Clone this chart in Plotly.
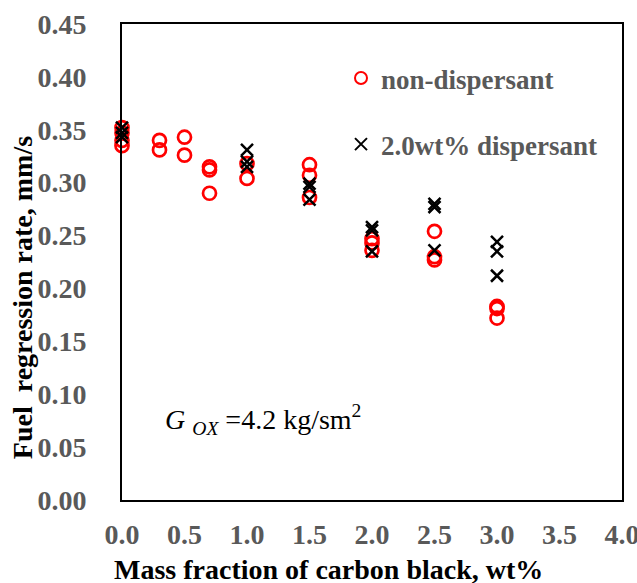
import plotly.graph_objects as go

# Non-dispersant (red open circles)
nd_x = [0, 0, 0, 0, 0.3, 0.3, 0.5, 0.5, 0.7, 0.7, 0.7, 1.0, 1.0,
        1.5, 1.5, 1.5, 2.0, 2.0, 2.0, 2.5, 2.5, 2.5, 3.0, 3.0, 3.0]
nd_y = [0.352, 0.347, 0.340, 0.335, 0.340, 0.331, 0.343, 0.326, 0.315, 0.312, 0.290,
        0.318, 0.304, 0.317, 0.307, 0.286, 0.247, 0.243, 0.236,
        0.254, 0.230, 0.227, 0.183, 0.181, 0.172]

# 2.0wt% dispersant (black crosses)
d_x = [0, 0, 0, 1.0, 1.0, 1.0, 1.5, 1.5, 1.5, 2.0, 2.0, 2.0, 2.5, 2.5, 2.5, 3.0, 3.0, 3.0]
d_y = [0.352, 0.347, 0.343, 0.331, 0.320, 0.315, 0.299, 0.296, 0.284,
       0.258, 0.255, 0.235, 0.280, 0.277, 0.236, 0.244, 0.235, 0.212]

x_ticks = [0.0, 0.5, 1.0, 1.5, 2.0, 2.5, 3.0, 3.5, 4.0]
y_ticks = [0.00, 0.05, 0.10, 0.15, 0.20, 0.25, 0.30, 0.35, 0.40, 0.45]

SERIF = "Liberation Serif, Times New Roman, serif"
GRAY = "#595959"

fig = go.Figure()
fig.add_trace(go.Scatter(
    x=nd_x, y=nd_y, mode="markers", name="non-dispersant", legendgroup="a",
    marker=dict(symbol="circle-open", size=13, color="#FF0000", line=dict(width=2.7, color="#FF0000")),
    cliponaxis=False,
))
fig.add_trace(go.Scatter(
    x=d_x, y=d_y, mode="markers", name="2.0wt% dispersant", legendgroup="b",
    marker=dict(symbol="x-thin-open", size=12, color="#000000", line=dict(width=2.5, color="#000000")),
    cliponaxis=False,
))

fig.update_layout(
    width=637, height=583,
    margin=dict(l=122, r=15, t=24, b=83, autoexpand=False),
    paper_bgcolor="white", plot_bgcolor="white",
    font=dict(family=SERIF, size=27, color=GRAY),
    showlegend=True,
    legend=dict(
        x=0.438, y=0.937, xanchor="left", yanchor="top",
        bgcolor="rgba(0,0,0,0)",
        font=dict(family=SERIF, size=27, color=GRAY, weight="bold"),
        tracegroupgap=28, itemsizing="constant",
    ),
    xaxis=dict(
        range=[0, 4], tickvals=x_ticks, ticktext=[f"{v:.1f}" for v in x_ticks],
        showgrid=False, zeroline=False, automargin=False,
        showline=True, linecolor="black", linewidth=2, mirror=True,
        ticks="", ticklabelstandoff=8, ticklabeloverflow="allow",
        tickfont=dict(family=SERIF, size=28, color=GRAY, weight="bold"),
    ),
    yaxis=dict(
        range=[0, 0.45], tickvals=y_ticks, ticktext=[f"{v:.2f}" for v in y_ticks],
        showgrid=False, zeroline=False, automargin=False,
        showline=True, linecolor="black", linewidth=2, mirror=True,
        ticks="", ticklabelstandoff=28, ticklabeloverflow="allow",
        tickfont=dict(family=SERIF, size=28, color=GRAY, weight="bold"),
    ),
    annotations=[
        dict(text="<b>Mass fraction of carbon black, wt%</b>", xref="paper", yref="paper",
             x=0.413, y=-0.145, xanchor="center", yanchor="middle", showarrow=False,
             font=dict(family=SERIF, size=28, color="black")),
        dict(text="<b>Fuel  regression rate, mm/s</b>", xref="paper", yref="paper",
             x=-0.2, y=0.424, xanchor="center", yanchor="middle", textangle=-90, showarrow=False,
             font=dict(family=SERIF, size=28, color="black")),
        dict(text="<i>G</i> <sub><i>OX</i></sub> =4.2 kg/sm<sup>2</sup>", xref="paper", yref="paper",
             x=(163 - 122) / 500, y=(500 - 420) / 476, xanchor="left", yanchor="middle", showarrow=False,
             font=dict(family=SERIF, size=28, color="black")),
    ],
)

fig.write_html("out.html", config={"displayModeBar": False},
               post_script="document.body.style.margin='0';document.body.style.padding='0';document.body.style.overflow='hidden';")
